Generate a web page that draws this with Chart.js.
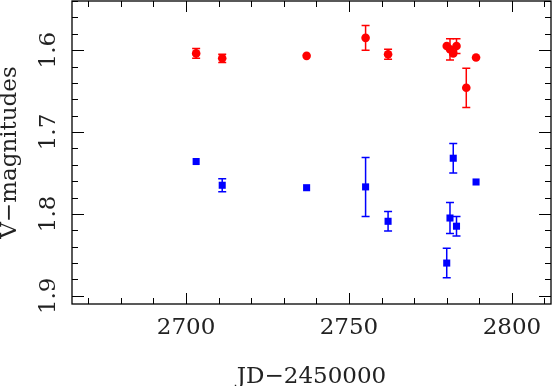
<!DOCTYPE html>
<html lang="en">
<head>
    <meta charset="UTF-8">
    <title>V-magnitudes vs JD</title>
    <script src="https://cdn.jsdelivr.net/npm/chart.js"></script>
    <style>
        body { margin: 0; background: #fff; }
        #wrap { width: 552px; height: 386px; }
    </style>
</head>
<body>
    <div id="wrap"><canvas id="lc" width="552" height="386"></canvas></div>

    <script>
        // red series (upper)
        const jdRed  = [2703.1, 2711.1, 2737.0, 2755.1, 2762.0, 2780.0, 2781.0, 2782.0, 2783.0, 2786.0, 2789.0];
        const magRed = [1.604, 1.610, 1.607, 1.585, 1.605, 1.595, 1.599, 1.604, 1.595, 1.646, 1.609];
        const errRed = [0.006, 0.005, 0.002, 0.015, 0.006, 0.003, 0.013, 0.003, 0.009, 0.024, 0.002];

        // blue series (lower)
        const jdBlue  = [2703.1, 2711.1, 2737.0, 2755.1, 2762.0, 2780.0, 2781.0, 2782.0, 2783.0, 2789.0];
        const magBlue = [1.736, 1.765, 1.768, 1.767, 1.809, 1.860, 1.805, 1.732, 1.815, 1.761];
        const errBlue = [0.002, 0.008, 0.002, 0.036, 0.012, 0.018, 0.019, 0.018, 0.012, 0.003];

        const xTicks = [2700, 2750, 2800];
        const yTicks = [1.6, 1.7, 1.8, 1.9];
        const xMinorStep = 10;
        const yMinorStep = 0.02;

        const FONT = "'DejaVu Serif', serif";

        const toPoints = (xs, ys, es) => xs.map((x, i) => ({ x: x, y: ys[i], err: es[i] }));

        // error bars, drawn under the markers
        const errorBars = {
            id: "errorBars",
            beforeDatasetsDraw(chart) {
                const ctx = chart.ctx;
                const xs = chart.scales.x, ys = chart.scales.y;
                chart.data.datasets.forEach(ds => {
                    ctx.save();
                    ctx.strokeStyle = ds.borderColor;
                    ctx.lineWidth = 1.5;
                    ds.data.forEach(p => {
                        if (p.err < 0.004) return;
                        const px = xs.getPixelForValue(p.x);
                        const y1 = ys.getPixelForValue(p.y - p.err);
                        const y2 = ys.getPixelForValue(p.y + p.err);
                        ctx.beginPath();
                        ctx.moveTo(px, y1); ctx.lineTo(px, y2);
                        ctx.moveTo(px - 4, y1); ctx.lineTo(px + 4, y1);
                        ctx.moveTo(px - 4, y2); ctx.lineTo(px + 4, y2);
                        ctx.stroke();
                    });
                    ctx.restore();
                });
            }
        };

        // box frame with inward ticks on all four sides + rotated y labels
        const frame = {
            id: "frame",
            afterDraw(chart) {
                const ctx = chart.ctx;
                const a = chart.chartArea;
                const xs = chart.scales.x, ys = chart.scales.y;
                ctx.save();
                ctx.strokeStyle = "#000";
                ctx.lineWidth = 1;
                ctx.beginPath();
                for (let v = Math.ceil(xs.min / xMinorStep) * xMinorStep; v <= xs.max; v += xMinorStep) {
                    const px = Math.round(xs.getPixelForValue(v)) + 0.5;
                    const len = xTicks.includes(v) ? 11 : 6;
                    ctx.moveTo(px, a.bottom); ctx.lineTo(px, a.bottom - len);
                    ctx.moveTo(px, a.top); ctx.lineTo(px, a.top + len);
                }
                for (let k = Math.ceil(ys.min / yMinorStep - 1e-6); k * yMinorStep <= ys.max + 1e-9; k++) {
                    const v = +(k * yMinorStep).toFixed(2);
                    const py = Math.round(ys.getPixelForValue(v)) + 0.5;
                    const major = yTicks.some(t => Math.abs(t - v) < 1e-6);
                    const len = major ? 12 : 6;
                    ctx.moveTo(a.left, py); ctx.lineTo(a.left + len, py);
                    ctx.moveTo(a.right, py); ctx.lineTo(a.right - len, py);
                }
                ctx.stroke();
                ctx.lineWidth = 1.3;
                ctx.strokeRect(a.left, a.top, a.right - a.left, a.bottom - a.top);

                ctx.fillStyle = "#222";
                ctx.font = "23px " + FONT;
                ctx.textAlign = "center";
                ctx.textBaseline = "alphabetic";
                yTicks.forEach(t => {
                    ctx.save();
                    ctx.translate(55, ys.getPixelForValue(t));
                    ctx.rotate(-Math.PI / 2);
                    ctx.fillText(t.toFixed(1), 0, 0);
                    ctx.restore();
                });
                ctx.restore();
            }
        };

        new Chart(document.getElementById("lc"), {
            type: "scatter",
            data: {
                datasets: [
                    {
                        label: "red",
                        data: toPoints(jdRed, magRed, errRed),
                        pointStyle: "circle",
                        pointRadius: 4.3,
                        backgroundColor: "#ff0000",
                        borderColor: "#ff0000",
                        borderWidth: 0
                    },
                    {
                        label: "blue",
                        data: toPoints(jdBlue, magBlue, errBlue),
                        pointStyle: "rect",
                        pointRadius: 5,
                        backgroundColor: "#0000ff",
                        borderColor: "#0000ff",
                        borderWidth: 0
                    }
                ]
            },
            options: {
                responsive: false,
                animation: false,
                devicePixelRatio: 1,
                layout: { autoPadding: false, padding: { top: 1, right: 1, left: 0, bottom: 0 } },
                plugins: {
                    legend: { display: false },
                    tooltip: { enabled: false }
                },
                scales: {
                    x: {
                        type: "linear",
                        min: 2665,
                        max: 2812,
                        grid: { display: false, drawTicks: false },
                        border: { display: false },
                        afterBuildTicks: s => { s.ticks = xTicks.map(v => ({ value: v })); },
                        afterFit: s => { s.height = 82; },
                        ticks: {
                            color: "#222",
                            padding: 10,
                            maxRotation: 0,
                            font: { family: FONT, size: 23, lineHeight: 1.2 },
                            callback: v => String(v)
                        },
                        title: {
                            display: true,
                            text: "JD\u22122450000",
                            color: "#222",
                            padding: 0,
                            font: { family: FONT, size: 23, lineHeight: 0.8 }
                        }
                    },
                    y: {
                        type: "linear",
                        reverse: true,
                        min: 1.54,
                        max: 1.91,
                        grid: { display: false, drawTicks: false },
                        border: { display: false },
                        afterBuildTicks: s => { s.ticks = yTicks.map(v => ({ value: v })); },
                        afterFit: s => { s.width = 72; },
                        ticks: { display: false },
                        title: {
                            display: true,
                            text: "V\u2212magnitudes",
                            color: "#222",
                            padding: 0,
                            font: { family: FONT, size: 23, lineHeight: 0.87 }
                        }
                    }
                }
            },
            plugins: [errorBars, frame]
        });
    </script>
</body>
</html>
